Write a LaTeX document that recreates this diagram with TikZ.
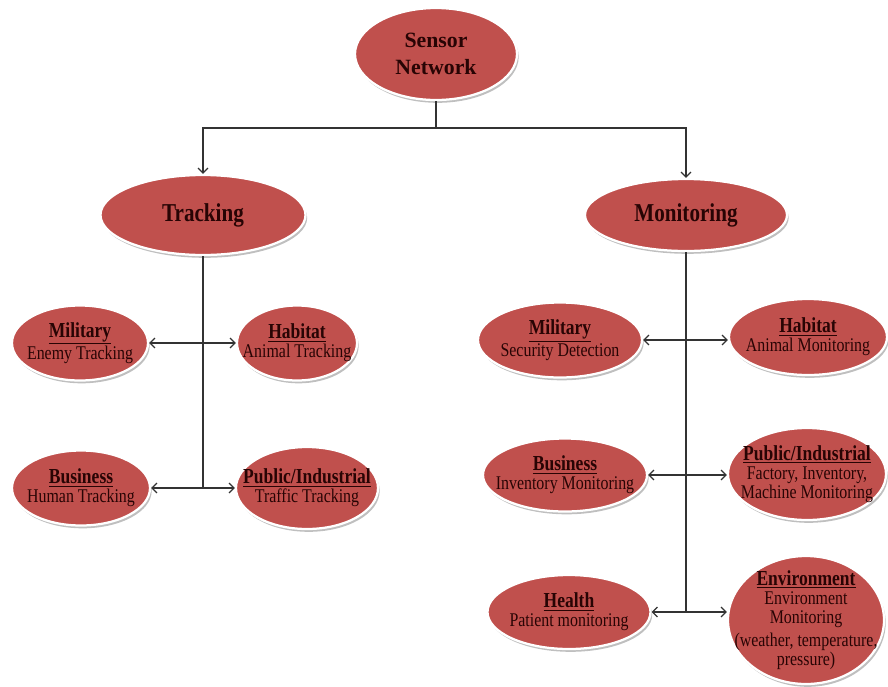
\documentclass[tikz,border=0pt]{standalone}
\usepackage{fontspec}
\setmainfont{Liberation Serif}[FakeStretch=0.82]
\newfontfamily\rootfont{Liberation Serif}
\usetikzlibrary{shapes.geometric,shadows,arrows.meta}
\definecolor{ovalred}{RGB}{192,80,77}
\definecolor{inkred}{RGB}{40,4,4}
\newcommand{\leafhead}[1]{{\fontsize{15.2}{15}\selectfont\bfseries\underline{#1}}}
\tikzset{
  oval/.style={ellipse, fill=ovalred, draw=white, line width=1.6pt, inner sep=-30pt,
    text=inkred, align=center,
    drop shadow={shadow xshift=1.2pt, shadow yshift=-2pt, fill=black, opacity=0.25}},
  esize/.style 2 args={minimum width=#1*0.025cm, minimum height=#2*0.025cm},
  topoval/.style={oval, font=\fontsize{18.3}{19}\selectfont\bfseries},
  leaf/.style={oval, font=\fontsize{13.8}{13.5}\selectfont},
  link/.style={line width=0.9pt, draw=black!80},
  arrowlink/.style={link, -{Straight Barb[length=3.5pt,width=7pt]}}
}
\begin{document}
\begin{tikzpicture}[x=0.025cm, y=-0.025cm]
      \useasboundingbox (0,0) rectangle (888,686);
      % root and the two branches
      \node[topoval, esize={162}{92}, font=\rootfont\fontsize{15.5}{19.5}\selectfont\bfseries] (sn) at (436,54) {Sensor\\Network};
      \node[topoval, esize={205}{80}] (trk) at (203,215) {Tracking};
      \node[topoval, esize={202}{72}] (mon) at (686,215) {Monitoring};
      \coordinate (split) at (436,128);
      \draw[link] (sn.south) -- (split);
      \draw[arrowlink] (split) -| (trk.north);
      \draw[arrowlink] (split) -| (mon.north);
      % tracking leaves
      \node[leaf, esize={136}{75}] (lmil) at (80,343) {\leafhead{Military}\\Enemy Tracking};
      \node[leaf, esize={120}{75}] (lhab) at (297,343) {\leafhead{Habitat}\\Animal Tracking};
      \node[leaf, esize={138}{75}] (lbus) at (81,488) {\leafhead{Business}\\Human Tracking};
      \node[leaf, esize={142}{82}] (lpub) at (307,488) {\leafhead{Public/Industrial}\\Traffic Tracking};
      \draw[link] (trk.south) -- (trk.south |- lbus.east);
      \draw[arrowlink] (trk.south |- lmil.east) -- (lmil.east);
      \draw[arrowlink] (trk.south |- lhab.west) -- (lhab.west);
      \draw[arrowlink] (trk.south |- lbus.east) -- (lbus.east);
      \draw[arrowlink] (trk.south |- lpub.west) -- (lpub.west);
      % monitoring leaves
      \node[leaf, esize={164}{75}] (rmil) at (560,340) {\leafhead{Military}\\Security Detection};
      \node[leaf, esize={158}{76}] (rhab) at (808,337) {\leafhead{Habitat}\\Animal Monitoring};
      \node[leaf, esize={164}{73}] (rbus) at (565,475) {\leafhead{Business}\\Inventory Monitoring};
      \node[leaf, esize={158}{92}] (rpub) at (807,474) {\leafhead{Public/Industrial}\\Factory, Inventory,\\Machine Monitoring};
      \node[leaf, esize={163}{74}] (rhth) at (569,612) {\leafhead{Health}\\Patient monitoring};
      \node[leaf, esize={156}{128}] (renv) at (806,620) {\leafhead{Environment}\\Environment\\Monitoring\\[3pt](weather, temperature,\\pressure)};
      \draw[link] (mon.south) -- (mon.south |- rhth.east);
      \draw[arrowlink] (mon.south |- rmil.east) -- (rmil.east);
      \draw[arrowlink] (mon.south |- rmil.east) -- (rhab.west |- rmil.east);
      \draw[arrowlink] (mon.south |- rbus.east) -- (rbus.east);
      \draw[arrowlink] (mon.south |- rbus.east) -- (rpub.west |- rbus.east);
      \draw[arrowlink] (mon.south |- rhth.east) -- (rhth.east);
      \draw[arrowlink] (mon.south |- rhth.east) -- (renv.west |- rhth.east);
    \end{tikzpicture}
\end{document}
